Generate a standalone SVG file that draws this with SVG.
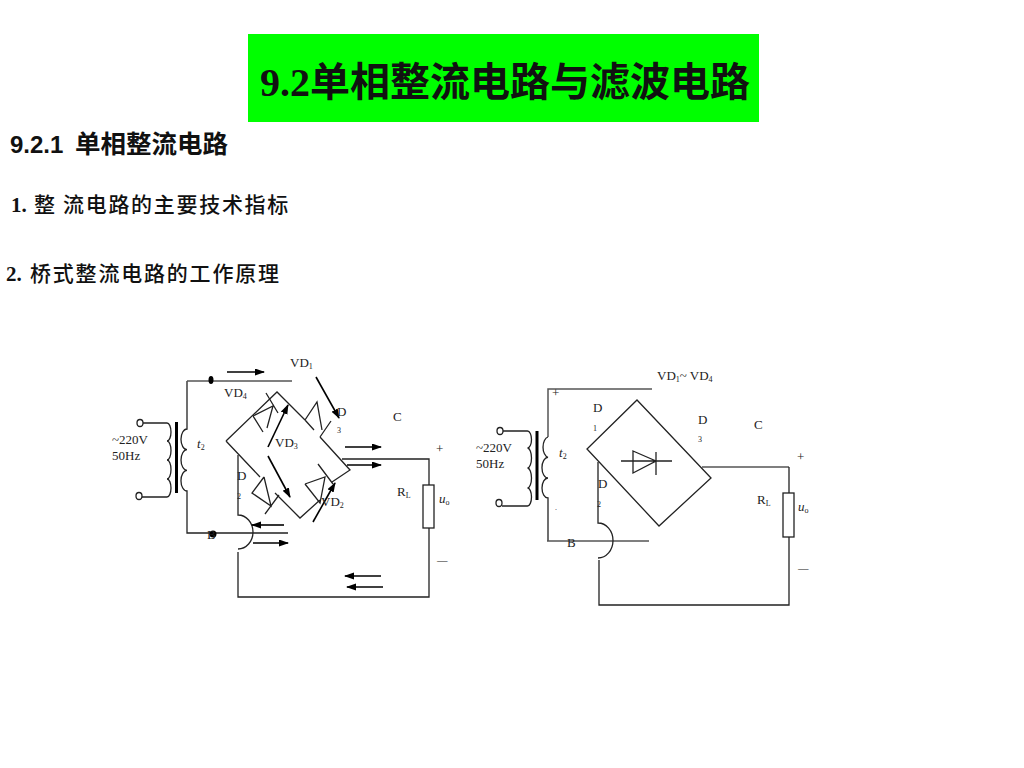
<svg xmlns="http://www.w3.org/2000/svg" width="1024" height="768" viewBox="0 0 1024 768">
<style>
.w{fill:none;stroke:#222;stroke-width:1.3}
.g{fill:none;stroke:#555;stroke-width:1.5}
.a{fill:none;stroke:#000;stroke-width:1.6;marker-end:url(#ah)}
.core{stroke:#000;stroke-width:3}
.term{fill:#fff;stroke:#222;stroke-width:1.3}
.t{font-family:"Liberation Serif",serif;font-size:13px;fill:#222}
.s{font-size:8px}
.i{font-style:italic}
.dash{font-size:10.500px}
.zh{font-family:"Liberation Serif","Noto Sans CJK SC",serif;font-weight:700;font-size:21px;fill:#111}
.cjk{font-weight:500}
</style>
<defs>
<marker id="ah" markerUnits="userSpaceOnUse" markerWidth="10" markerHeight="8" refX="9" refY="3.5" orient="auto"><path d="M0 0L10 3.500L0 7z" fill="#000"/></marker>
</defs>
<rect width="1024" height="768" fill="#fff"/>
<g id="title">
<rect x="248" y="34" width="511" height="88" fill="#00ff00"/>
<text x="260" y="96" font-family="'Liberation Serif','Noto Sans CJK SC',serif" font-weight="700" font-size="40" fill="#111">9.2单相整流电路与滤波电路</text>
</g>
<g id="headings">
<text x="10" y="153" font-family="'Liberation Sans','Noto Sans CJK SC',sans-serif" font-weight="700" font-size="24" fill="#111">9.2.1 <tspan x="75" font-size="25.500">单相整流电路</tspan></text>
<text class="zh" x="11" y="212">1. <tspan class="cjk" x="34">整</tspan><tspan class="cjk" x="63" letter-spacing="1.700">流电路的主要技术指标</tspan></text>
<text class="zh" x="6" y="281">2. <tspan class="cjk" x="30" letter-spacing="1.800">桥式整流电路的工作原理</tspan></text>
</g>
<g id="connectors">
<g id="left-wires">
<ellipse class="term" cx="140" cy="423" rx="3" ry="3.500"/>
<ellipse class="term" cx="139" cy="496" rx="3" ry="3.500"/>
<path class="w" d="M143 423H167A4 9 0 0 1 167 441A4 9.500 0 0 1 167 460A4 9.500 0 0 1 167 479A4 9 0 0 1 167 497H142"/>
<path class="core" d="M176.500 422V493"/>
<path class="w" d="M187 381V429A6 10.300 0 0 0 187 449.700A6 10.300 0 0 0 187 470.300A6 10.300 0 0 0 187 491V533H288"/>
<path class="g" d="M187 381H292"/>
<ellipse cx="211" cy="380" rx="2.500" ry="4" fill="#000"/>
<circle cx="213" cy="534" r="3.500" fill="#000"/>
<path class="w" d="M342 459H429V485M429 528V597H238V552M238 455V515A15 17 0 0 1 238 549"/>
<rect x="423" y="485" width="11" height="43" fill="#fff" stroke="#222" stroke-width="1.3"/>
</g>
<g id="left-bridge">
<path class="w" d="M226 441L277 392L305 420M320 437L350 470L332 482M320 500L300 518L275 493M260 477L226 441"/>
<path class="w" d="M253 416L273 406L267 428M253 416L263 432M266 393L278 413"/>
<path class="w" d="M305 420L317 402L322 430M305 420L314 430M320 437L331 421"/>
<path class="w" d="M264 477L252 493L271 506L264 477M265 514L279 495"/>
<path class="w" d="M305 484L325 477L320 503L305 484M318 464L333 484"/>
</g>
<g id="left-arrows">
<path class="a" d="M227 372H264"/>
<path class="a" d="M268 447L288 405"/>
<path class="a" d="M268 456L290 497"/>
<path class="a" d="M316 377L339 418"/>
<path class="a" d="M313 522L335 483"/>
<path class="a" d="M345 447H381"/>
<path class="a" d="M347 465H381"/>
<path class="a" d="M284 525H252"/>
<path class="a" d="M253 543H288"/>
<path class="a" d="M381 576H345"/>
<path class="a" d="M383 587H347"/>
</g>
<g id="right-wires">
<ellipse class="term" cx="500" cy="431" rx="3" ry="3.500"/>
<ellipse class="term" cx="499" cy="503" rx="3" ry="3.500"/>
<path class="w" d="M503 431H527.500A4 8.500 0 0 1 527.500 448A4 10 0 0 1 527.500 468A4 10 0 0 1 527.500 488A4 9 0 0 1 527.500 506H502"/>
<path class="core" d="M537 431V500"/>
<path class="g" d="M548 437V389H652"/>
<path class="w" d="M548 437A6 10.300 0 0 0 548 457.300A6 10.300 0 0 0 548 478A6 10 0 0 0 548 498V541"/>
<path class="g" d="M547 541H649"/>
<path class="g" d="M702 467H789"/>
<path class="w" d="M789 467V493M789 537V605H599V560M598 462V523A15 17.500 0 0 1 598 558"/>
<rect x="783" y="493" width="11" height="44" fill="#fff" stroke="#222" stroke-width="1.3"/>
</g>
<g id="right-bridge">
<path class="w" d="M637 400L711 478L659 526L587 449Z"/>
<path class="w" d="M621 461H672M656 452V475M633 451L656 461L633 473Z"/>
</g>
</g>
<g id="labels-left">
<text class="t" x="290" y="367">VD<tspan class="s" dy="2">1</tspan></text>
<text class="t" x="224" y="397">VD<tspan class="s" dy="2">4</tspan></text>
<text class="t" x="337" y="416">D</text>
<text class="t s" x="337" y="433">3</text>
<text class="t" x="393" y="421">C</text>
<text class="t" x="436" y="453">+</text>
<text class="t" x="275" y="447">VD<tspan class="s" dy="2">3</tspan></text>
<text class="t" x="237" y="480">D</text>
<text class="t s" x="237" y="499">2</text>
<text class="t" x="321" y="506">VD<tspan class="s" dy="2">2</tspan></text>
<text class="t" x="397" y="496">R<tspan class="s" dy="2">L</tspan></text>
<text class="t" x="439" y="503"><tspan class="i">u</tspan><tspan class="s" dy="2">o</tspan></text>
<text class="t dash" x="437" y="564">—</text>
<text class="t" x="197" y="448"><tspan class="i">t</tspan><tspan class="s" dy="2">2</tspan></text>
<text class="t" x="112" y="444">~220V</text>
<text class="t" x="112" y="460">50Hz</text>
<text class="t" x="207" y="539">B</text>
</g>
<g id="labels-right">
<text class="t" x="552" y="397">+</text>
<text class="t" x="593" y="412">D</text>
<text class="t s" x="593" y="431">1</text>
<text class="t" x="657" y="380">VD<tspan class="s" dy="2">1</tspan><tspan dy="-2">~ VD</tspan><tspan class="s" dy="2">4</tspan></text>
<text class="t" x="698" y="424">D</text>
<text class="t s" x="698" y="442">3</text>
<text class="t" x="754" y="429">C</text>
<text class="t" x="797" y="461">+</text>
<text class="t" x="559" y="457"><tspan class="i">t</tspan><tspan class="s" dy="2">2</tspan></text>
<text class="t" x="476" y="452">~220V</text>
<text class="t" x="476" y="468">50Hz</text>
<text class="t" x="598" y="488">D</text>
<text class="t s" x="597" y="507">2</text>
<text class="t" x="757" y="504">R<tspan class="s" dy="2">L</tspan></text>
<text class="t" x="798" y="511"><tspan class="i">u</tspan><tspan class="s" dy="2">o</tspan></text>
<text class="t dash" x="798" y="572">—</text>
<text class="t" x="567" y="547">B</text>
<text class="t s" x="555" y="510">.</text>
</g>
</svg>
